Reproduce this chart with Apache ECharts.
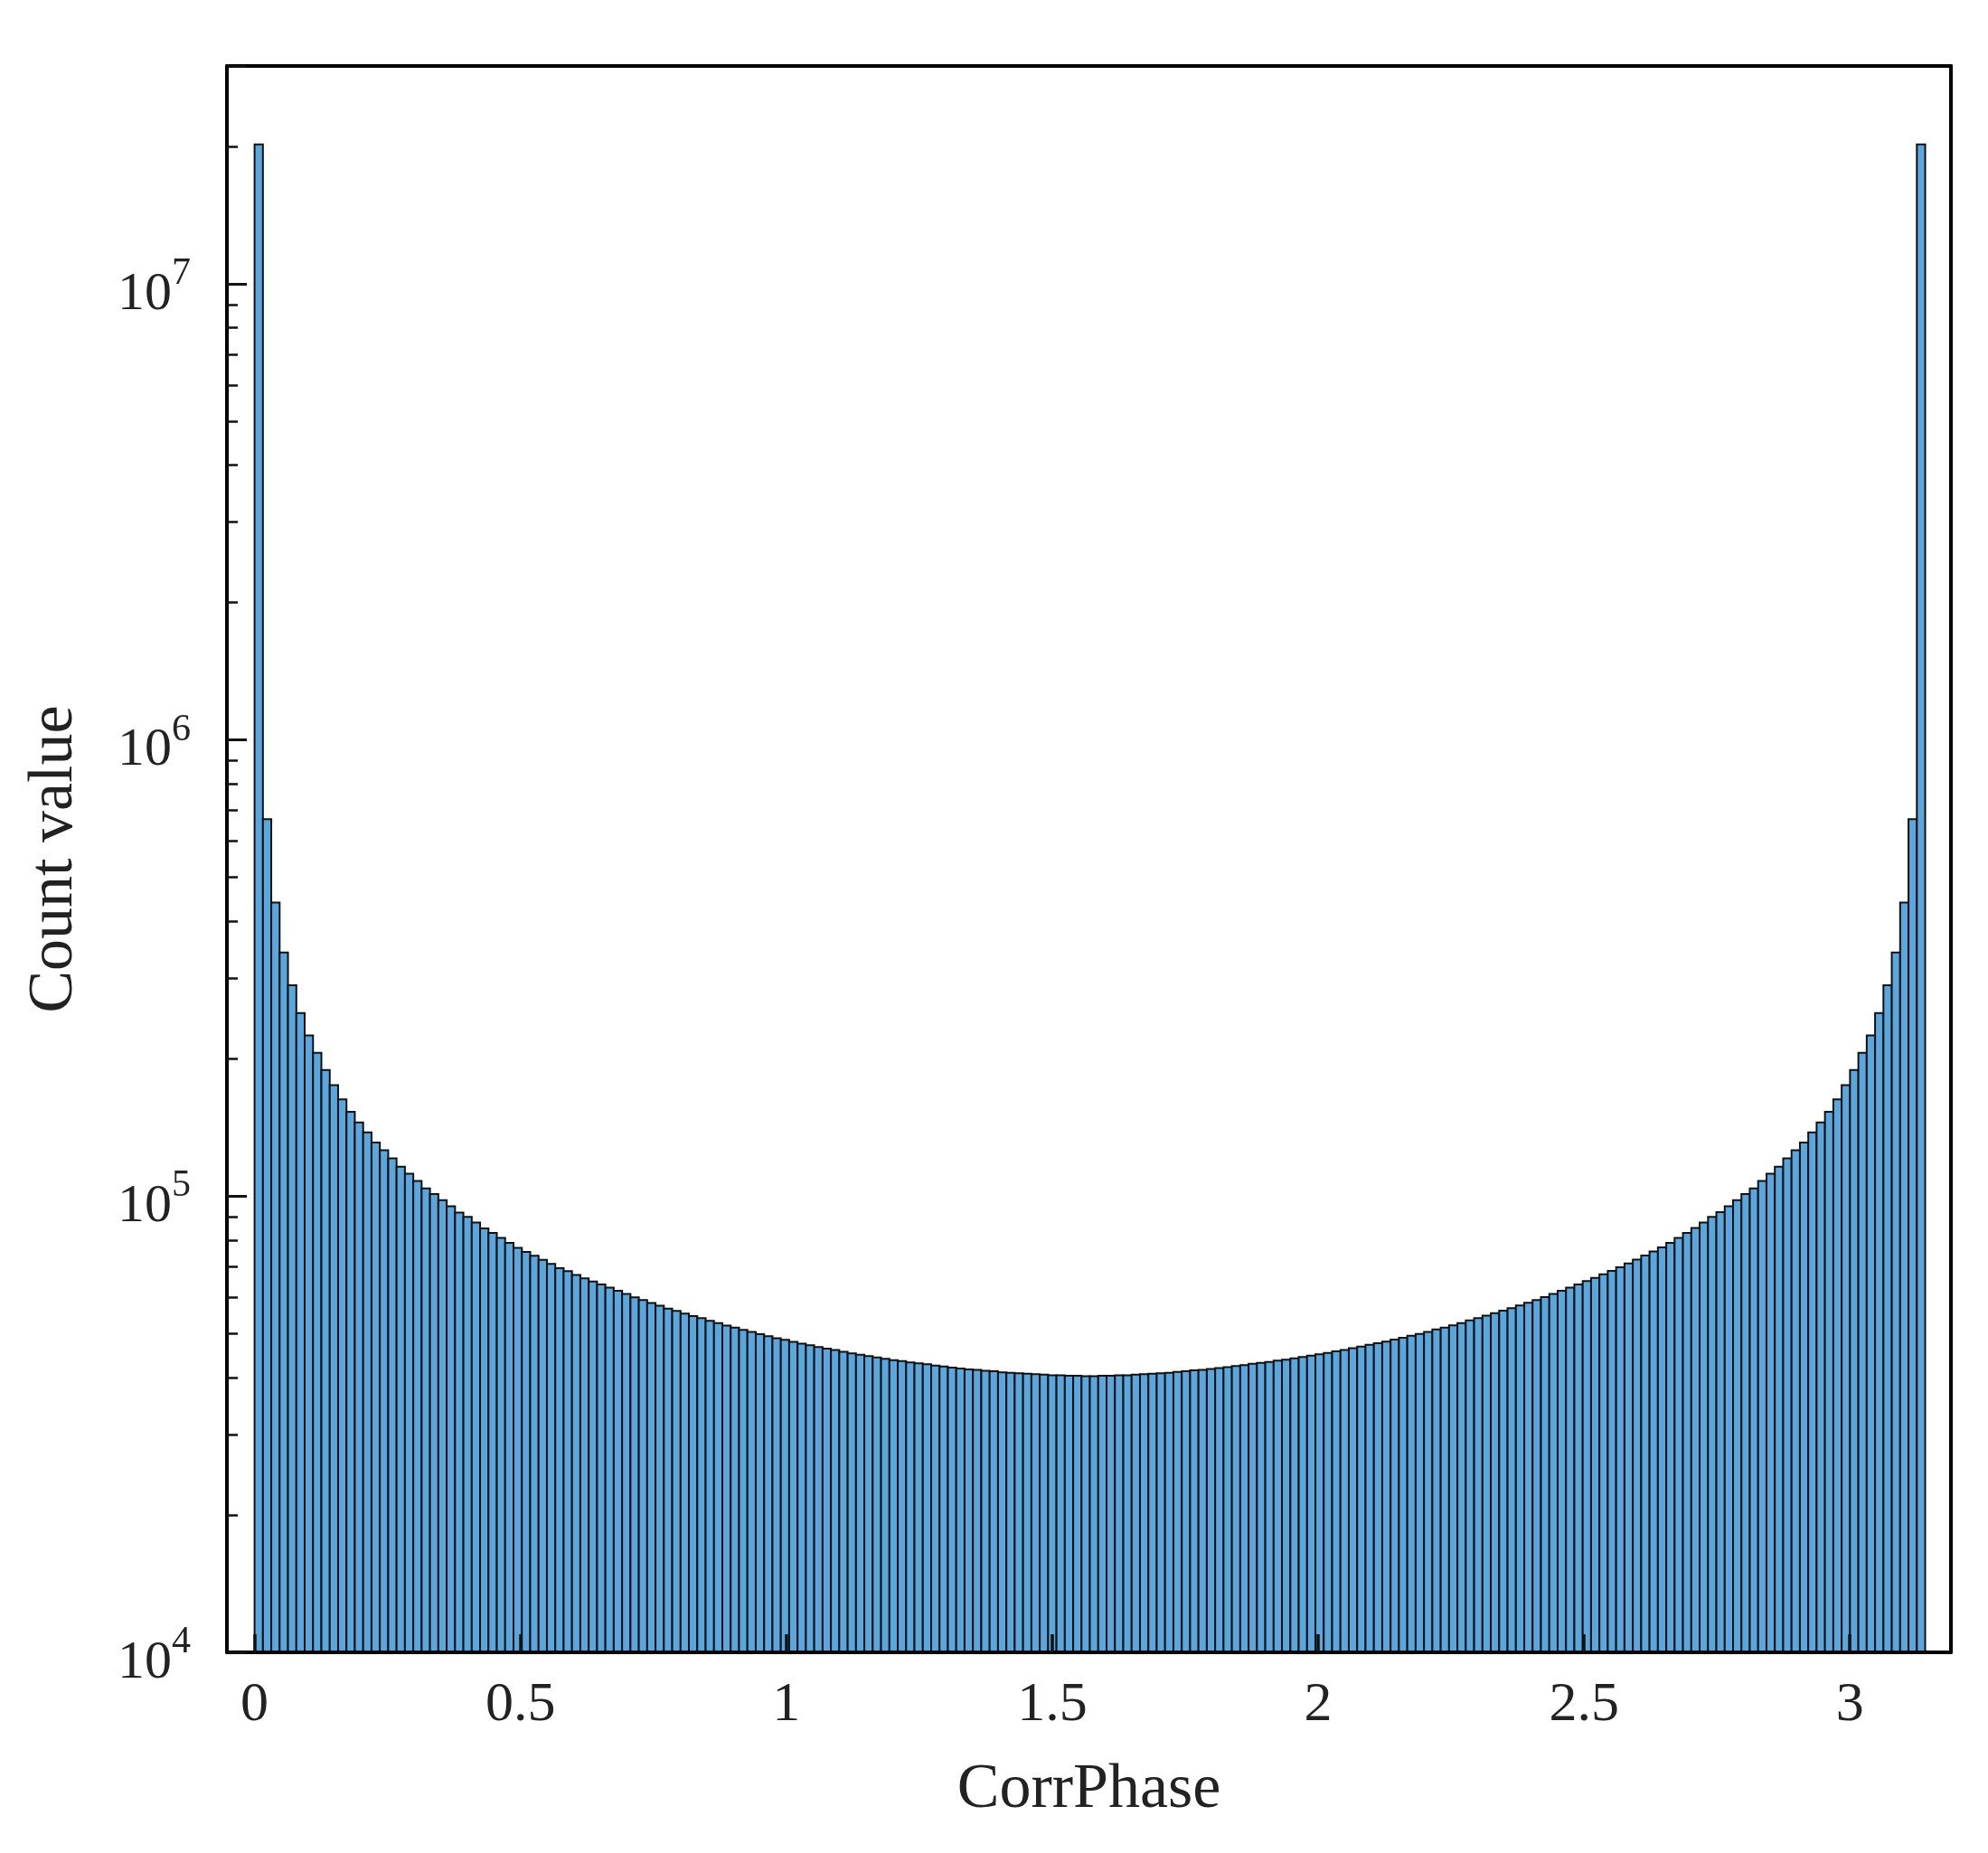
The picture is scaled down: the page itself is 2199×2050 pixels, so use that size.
<!DOCTYPE html>
<html><head><meta charset="utf-8">
<script src="https://cdn.jsdelivr.net/npm/echarts@6/dist/echarts.min.js"></script>
<style>html,body{margin:0;padding:0;background:#fff}#c{width:2199px;height:2050px}</style>
</head><body><div id="c"></div>
<script>
const binCount = 200;
const xMax = Math.PI;
const xTicks = [0, 0.5, 1, 1.5, 2, 2.5, 3];
const yTickExps = [4, 5, 6, 7];
const leftHalf = [2.02e7,6.7e5,4.4e5,3.42e5,2.9e5,2.52e5,2.25e5,2.06e5,1.89e5,1.75e5,
1.63e5,1.53e5,1.45e5,1.38e5,1.31e5,1.26e5,1.21e5,1.16e5,1.12e5,1.08e5,
1.04e5,1.01e5,9.8e4,9.5e4,9.2e4,9.0e4,8.75e4,8.5e4,8.3e4,8.1e4,
7.9e4,7.7e4,7.55e4,7.4e4,7.25e4,7.1e4,6.95e4,6.85e4,6.72e4,6.6e4,
6.5e4,6.4e4,6.3e4,6.2e4,6.1e4,6.0e4,5.92e4,5.83e4,5.75e4,5.67e4,
5.6e4,5.53e4,5.46e4,5.4e4,5.33e4,5.27e4,5.2e4,5.15e4,5.09e4,5.04e4,
4.98e4,4.93e4,4.88e4,4.84e4,4.79e4,4.75e4,4.71e4,4.67e4,4.63e4,4.6e4,
4.56e4,4.52e4,4.49e4,4.46e4,4.43e4,4.4e4,4.37e4,4.35e4,4.32e4,4.3e4,
4.28e4,4.25e4,4.23e4,4.21e4,4.19e4,4.17e4,4.16e4,4.14e4,4.13e4,4.11e4,
4.1e4,4.09e4,4.08e4,4.07e4,4.06e4,4.05e4,4.05e4,4.04e4,4.04e4,4.03e4];
const rightHalf = [4.03e4,4.04e4,4.04e4,4.05e4,4.05e4,4.06e4,4.07e4,4.08e4,4.09e4,4.1e4,
4.12e4,4.13e4,4.15e4,4.16e4,4.18e4,4.2e4,4.22e4,4.24e4,4.26e4,4.29e4,
4.31e4,4.33e4,4.36e4,4.38e4,4.41e4,4.44e4,4.47e4,4.5e4,4.53e4,4.57e4,
4.6e4,4.64e4,4.68e4,4.72e4,4.76e4,4.8e4,4.85e4,4.89e4,4.94e4,4.99e4,
5.04e4,5.1e4,5.15e4,5.21e4,5.27e4,5.34e4,5.4e4,5.47e4,5.54e4,5.61e4,
5.68e4,5.76e4,5.84e4,5.92e4,6.01e4,6.1e4,6.2e4,6.3e4,6.4e4,6.51e4,
6.62e4,6.74e4,6.86e4,6.98e4,7.12e4,7.26e4,7.41e4,7.56e4,7.72e4,7.9e4,
8.1e4,8.3e4,8.52e4,8.75e4,9.0e4,9.22e4,9.5e4,9.8e4,1.01e5,1.04e5,
1.08e5,1.12e5,1.16e5,1.21e5,1.26e5,1.31e5,1.38e5,1.45e5,1.53e5,1.63e5,
1.75e5,1.89e5,2.06e5,2.25e5,2.52e5,2.9e5,3.42e5,4.4e5,6.7e5,2.02e7];
const counts = leftHalf.concat(rightHalf);

const binW = xMax / binCount;
const data = counts.map((v, i) => [i * binW, (i + 1) * binW, v]);
const font = 'Liberation Serif';

const chart = echarts.init(document.getElementById('c'));
chart.setOption({
  animation: false,
  backgroundColor: '#fff',
  grid: { left: 251, right: 41, top: 73, bottom: 222, show: false, outerBoundsMode: 'none', containLabel: false },
  xAxis: [{
    type: 'value', min: -0.052, max: 3.19, z: 10,
    name: 'CorrPhase', nameLocation: 'middle', nameGap: 118,
    nameTextStyle: { fontFamily: font, fontSize: 70, color: '#222' },
    axisLine: { show: true, onZero: false, lineStyle: { color: '#000', width: 4 } },
    axisTick: { show: true, inside: true, length: 20, lineStyle: { color: '#111', width: 3.5 }, customValues: xTicks },
    axisLabel: { fontFamily: font, fontSize: 62, color: '#222', margin: 28, customValues: xTicks,
      formatter: v => String(v) },
    splitLine: { show: false }
  }, {
    type: 'value', position: 'top', min: -0.052, max: 3.19, z: 10,
    axisLine: { show: true, onZero: false, lineStyle: { color: '#000', width: 4 } },
    axisTick: { show: false }, axisLabel: { show: false }, splitLine: { show: false }
  }],
  yAxis: [{
    type: 'log', logBase: 10, min: 1e4, max: 3e7, z: 10,
    name: 'Count value', nameLocation: 'middle', nameGap: 155,
    nameTextStyle: { fontFamily: font, fontSize: 70, color: '#222' },
    axisLine: { show: true, onZero: false, lineStyle: { color: '#000', width: 4 } },
    axisTick: { show: true, inside: true, length: 22, lineStyle: { color: '#111', width: 3 } },
    minorTick: { show: true, splitNumber: 9, length: 12, lineStyle: { color: '#111', width: 2.5 } },
    axisLabel: {
      fontFamily: font, color: '#222', margin: 40, showMaxLabel: false,
      formatter: v => { const e = Math.log10(v); const r = Math.round(e); return (Math.abs(e - r) < 1e-6 && yTickExps.includes(r)) ? '{b|10}{s|' + r + '}' : ''; },
      rich: { b: { fontFamily: font, fontSize: 60, color: '#222', padding: [24, 0, 0, 0] },
              s: { fontFamily: font, fontSize: 42, color: '#222', padding: [0, 0, 22, 0] } }
    },
    splitLine: { show: false }
  }, {
    type: 'log', position: 'right', min: 1e4, max: 3e7, z: 10,
    axisLine: { show: true, onZero: false, lineStyle: { color: '#000', width: 4 } },
    axisTick: { show: false }, axisLabel: { show: false }, splitLine: { show: false }
  }],
  series: [{
    type: 'custom',
    data: data,
    encode: { x: [0, 1], y: 2 },
    renderItem: (params, api) => {
      const p0 = api.coord([api.value(0), api.value(2)]);
      const p1 = api.coord([api.value(1), 1e4]);
      return {
        type: 'rect',
        shape: { x: p0[0], y: p0[1], width: p1[0] - p0[0], height: p1[1] - p0[1] },
        style: { fill: '#5ba7dd', stroke: '#111', lineWidth: 2 }
      };
    }
  }]
});
</script></body></html>
